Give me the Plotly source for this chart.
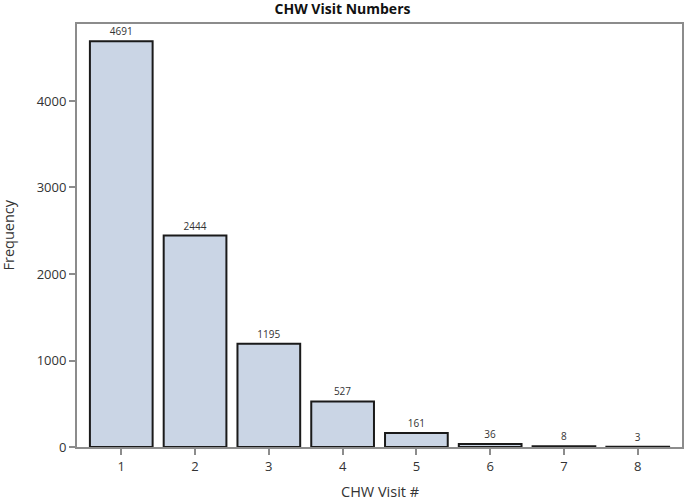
import plotly.graph_objects as go

visits = [1, 2, 3, 4, 5, 6, 7, 8]
frequency = [4691, 2444, 1195, 527, 161, 36, 8, 3]
y_ticks = [0, 1000, 2000, 3000, 4000]

FONT = "Open Sans"

fig = go.Figure()
fig.add_trace(go.Bar(
    x=visits, y=frequency, width=0.85,
    marker=dict(color="#CAD5E5", line=dict(color="#1a1a1a", width=2)),
    text=[str(v) for v in frequency], textposition="outside",
    textfont=dict(size=10, color="#333333", family=FONT),
    cliponaxis=False,
))

axis_common = dict(showline=True, linecolor="#8c8c8c", linewidth=2, mirror=True,
                   ticks="outside", tickcolor="#8c8c8c", ticklen=6, tickwidth=2,
                   showgrid=False, zeroline=False, automargin=False,
                   tickfont=dict(size=13, color="#333333", family=FONT))

fig.update_layout(
    width=685, height=502,
    margin=dict(l=77, r=3, t=24, b=55),
    plot_bgcolor="white", paper_bgcolor="white",
    title=dict(text="<b>CHW Visit Numbers</b>", x=0.5, xanchor="center", y=0.982, yanchor="middle",
               font=dict(size=14, color="#111111", family=FONT)),
    xaxis=dict(range=[0.4, 8.6], tickvals=visits, ticktext=[str(v) for v in visits], **axis_common),
    yaxis=dict(range=[0, 4890], tickvals=y_ticks, **axis_common),
    showlegend=False,
    annotations=[
        dict(text="CHW Visit #", xref="paper", yref="paper", x=0.5, y=-0.106, xanchor="center",
             yanchor="middle", showarrow=False, font=dict(size=14.5, color="#333333", family=FONT)),
        dict(text="Frequency", xref="paper", yref="paper", x=-0.114, y=0.5, xanchor="center",
             yanchor="middle", textangle=-90, showarrow=False,
             font=dict(size=14.5, color="#333333", family=FONT)),
    ],
)

fig.write_html("out.html", config={"displayModeBar": False},
               post_script="document.body.style.margin='0';document.body.style.padding='0';")
